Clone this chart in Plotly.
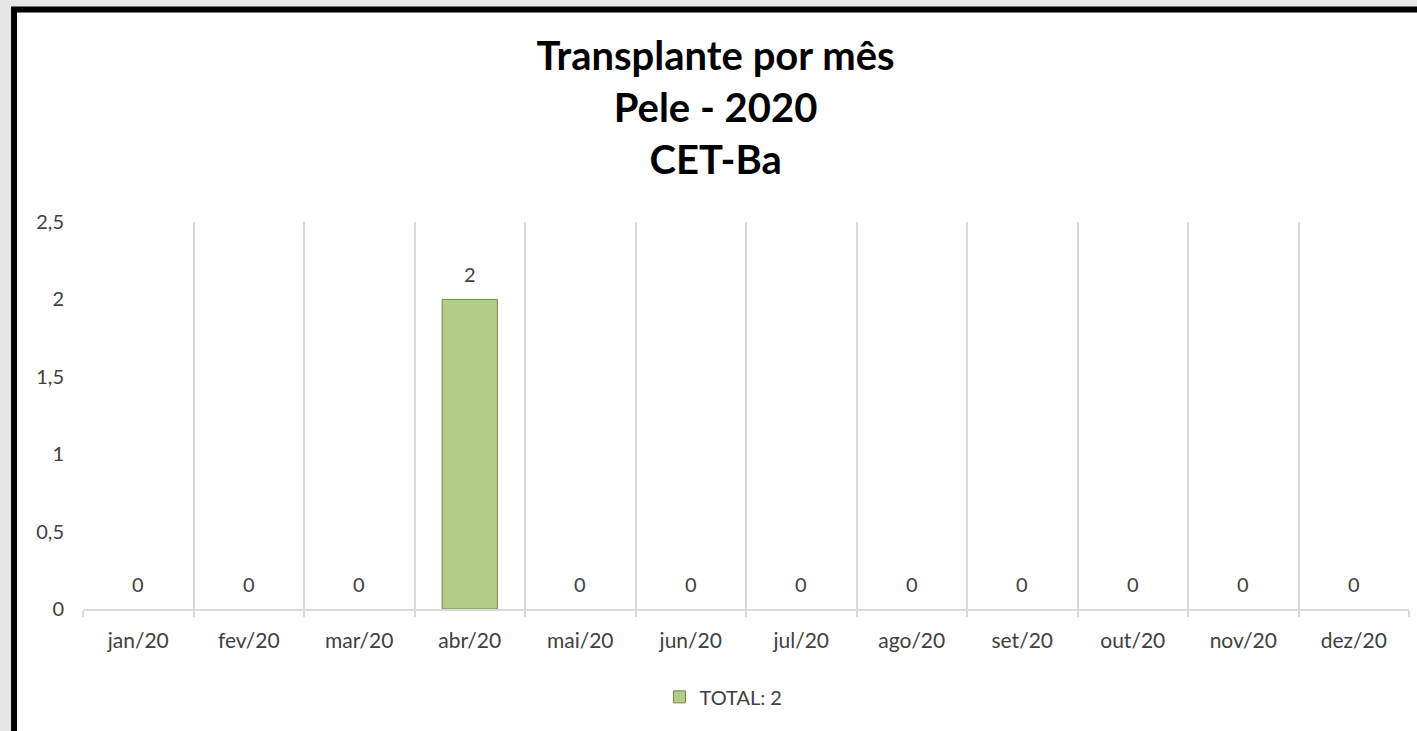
import plotly.graph_objects as go

months = ['jan/20', 'fev/20', 'mar/20', 'abr/20', 'mai/20', 'jun/20',
          'jul/20', 'ago/20', 'set/20', 'out/20', 'nov/20', 'dez/20']
totals = [0, 0, 0, 2, 0, 0, 0, 0, 0, 0, 0, 0]
series_name = 'TOTAL: 2'
y_ticks = [0, 0.5, 1, 1.5, 2, 2.5]

font_family = 'Lato, Open Sans, sans-serif'
bar_color = '#b2cd88'
edge_color = '#6d8a48'

fig = go.Figure()
fig.add_trace(go.Bar(
    x=months, y=totals, name=series_name,
    width=0.5,
    marker=dict(color=bar_color,
                line=dict(color=edge_color,
                          width=[1 if v else 0 for v in totals])),
    showlegend=False, legendgroup='total',
))
# legend entry only (so the swatch keeps its outline)
fig.add_trace(go.Bar(
    x=[None], y=[None], name=series_name, legendgroup='total',
    marker=dict(color=bar_color, line=dict(color=edge_color, width=1)),
))

# value labels above each bar
for m, v in zip(months, totals):
    fig.add_annotation(x=m, y=v, text=str(v), showarrow=False,
                       yanchor='middle', yshift=25,
                       font=dict(size=20, color='#404040'))

# outer frame (gray page, black border round the white chart)
fig.add_shape(type='rect', xref='paper', yref='paper',
              x0=-0.052, x1=1.02, y0=-0.4, y1=1.549,
              line=dict(color='black', width=6), fillcolor='white',
              layer='below')

fig.update_layout(
    width=1417, height=731,
    margin=dict(l=83, r=8, t=222, b=122),
    paper_bgcolor='#e6e6e6', plot_bgcolor='rgba(0,0,0,0)',
    separators=',.',
    font=dict(family=font_family, color='#404040', size=20),
    title=dict(text='<b>Transplante por mês<br>Pele - 2020<br>CET-Ba</b>',
               x=0.505, xanchor='center', y=1 - 70 / 731, yanchor='middle',
               yref='container',
               font=dict(size=40, color='#000000', family=font_family)),
    showlegend=True,
    legend=dict(orientation='h', x=0.483, xanchor='center', y=-0.227,
                yanchor='middle', font=dict(size=20, color='#404040'),
                bgcolor='rgba(0,0,0,0)', itemwidth=30),
    bargap=0.5, barmode='overlay',
)
fig.update_xaxes(tickson='boundaries', showgrid=True, gridcolor='#d9d9d9',
                 gridwidth=2, showline=True, linecolor='#d9d9d9',
                 linewidth=2, ticks='outside', ticklen=6,
                 tickcolor='#d9d9d9', tickwidth=2, ticklabelstandoff=12,
                 tickfont=dict(size=21, color='#404040'))
fig.update_yaxes(range=[0, 2.5], tickvals=y_ticks, showgrid=False,
                 zeroline=False, showline=False, ticks='', ticklabelstandoff=18,
                 tickfont=dict(size=20, color='#404040'))

fig.write_html('out.html', config={'displayModeBar': False},
               post_script="document.body.style.margin='0';"
                           "document.body.style.overflow='hidden';")
